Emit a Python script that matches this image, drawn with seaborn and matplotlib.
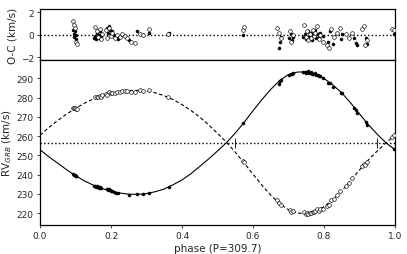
import numpy as np
import pandas as pd
import seaborn as sns
import matplotlib
matplotlib.use("Agg")
import matplotlib.pyplot as plt

# ---- model curves ----
curve_phase = [0.000, 0.025, 0.050, 0.075, 0.100, 0.125, 0.150, 0.175, 0.200, 0.225,
               0.250, 0.275, 0.300, 0.325, 0.350, 0.375, 0.400, 0.425, 0.450, 0.475,
               0.500, 0.525, 0.550, 0.575, 0.600, 0.625, 0.650, 0.675, 0.700, 0.725,
               0.750, 0.775, 0.800, 0.825, 0.850, 0.875, 0.900, 0.925, 0.950, 0.975, 1.000]
curve_prim = [253.0, 249.3, 246.0, 242.6, 239.5, 236.8, 234.6, 232.8, 231.5, 230.5,
              229.9, 229.8, 230.2, 231.2, 232.6, 234.8, 237.3, 240.5, 244.3, 248.2,
              252.3, 256.6, 261.6, 267.2, 273.2, 279.0, 284.3, 288.9, 292.0, 293.3,
              293.4, 292.3, 290.0, 286.6, 282.5, 277.3, 271.6, 266.0, 261.0, 256.5, 253.0]
curve_sec = [260.5, 264.5, 268.2, 271.5, 274.5, 277.1, 279.3, 281.0, 282.3, 283.2,
             283.7, 283.8, 283.4, 282.5, 281.0, 279.0, 276.4, 273.4, 269.9, 265.9,
             261.5, 256.9, 251.7, 246.1, 240.3, 234.6, 229.4, 225.0, 221.8, 220.1,
             219.8, 220.9, 223.4, 227.1, 231.6, 236.9, 242.5, 247.7, 252.3, 256.7, 260.5]
gamma = 256.7
conj_phase = [0.549, 0.948]

# ---- primary (filled) observations ----
phase_p = [0.094, 0.096, 0.097, 0.099, 0.100, 0.102,
           0.152, 0.156, 0.159, 0.161, 0.163, 0.165, 0.167, 0.170, 0.173,
           0.188, 0.191, 0.194, 0.197, 0.200, 0.204, 0.208, 0.214, 0.220,
           0.252, 0.272, 0.291, 0.306, 0.362, 0.573,
           0.672, 0.676, 0.680, 0.702, 0.706, 0.710, 0.714,
           0.742, 0.746, 0.750, 0.754, 0.758, 0.762, 0.766, 0.770, 0.774, 0.778,
           0.782, 0.786, 0.790, 0.796,
           0.812, 0.818, 0.826, 0.848, 0.852, 0.885, 0.889, 0.893, 0.918, 0.922, 0.998]
rv_p = [240.6, 240.0, 239.6, 239.9, 239.1, 239.3,
        234.2, 234.0, 233.5, 234.0, 233.5, 233.5, 233.1, 233.5, 232.9,
        232.7, 232.2, 232.6, 232.1, 231.6, 231.6, 231.2, 230.7, 230.3,
        229.4, 230.1, 230.0, 230.6, 233.8, 266.8,
        287.2, 288.4, 289.3, 291.8, 292.5, 292.1, 292.6,
        293.2, 293.5, 293.0, 293.6, 293.0, 293.1, 292.2, 292.5, 292.7, 291.8,
        291.8, 291.1, 291.1, 290.3,
        287.8, 287.8, 285.7, 282.4, 282.2, 274.7, 273.4, 272.3, 267.3, 265.9, 253.4]
oc_p = [0.4, 0.1, -0.2, 0.3, -0.4, 0.0,
        -0.3, -0.1, -0.4, 0.2, -0.2, 0.0, -0.3, 0.3, -0.1,
        0.6, 0.2, 0.8, 0.4, 0.1, 0.3, 0.0, -0.2, -0.4,
        -0.5, 0.3, -0.05, 0.15, 0.15, 0.0,
        -1.2, -0.6, -0.2, -0.3, 0.1, -0.5, -0.2,
        -0.2, 0.1, -0.4, 0.3, -0.1, 0.2, -0.5, 0.0, 0.4, -0.3,
        0.1, -0.2, 0.2, -0.1,
        -0.6, 0.3, -0.8, -0.4, 0.1, -0.3, -0.7, -0.9, -0.3, -0.8, 0.1]

# ---- secondary (open) observations ----
phase_s = [0.093, 0.095, 0.098, 0.101, 0.104,
           0.155, 0.160, 0.164, 0.168, 0.172, 0.176,
           0.186, 0.190, 0.195, 0.199, 0.203, 0.210, 0.216,
           0.225, 0.232, 0.240, 0.246, 0.255, 0.268, 0.282, 0.290, 0.306, 0.361,
           0.573, 0.576,
           0.668, 0.673, 0.678, 0.704, 0.708, 0.712,
           0.744, 0.748, 0.752, 0.756, 0.760, 0.764, 0.768, 0.772, 0.776, 0.780,
           0.785, 0.790, 0.796, 0.808, 0.815, 0.820, 0.828, 0.838, 0.846,
           0.862, 0.870, 0.880, 0.908, 0.912, 0.916, 0.922, 0.992, 0.996]
rv_s = [274.9, 274.8, 274.9, 274.0, 274.1,
        280.3, 280.3, 280.1, 281.0, 280.4, 281.2,
        282.0, 281.5, 282.7, 282.2, 282.6, 282.4, 282.9,
        283.0, 283.4, 283.4, 283.3, 283.1, 283.1, 283.8, 283.6, 283.8, 280.2,
        247.0, 246.6,
        226.8, 225.5, 224.3, 221.8, 220.7, 221.0,
        220.7, 219.6, 220.1, 219.4, 220.1, 219.9, 220.9, 220.6, 221.1, 222.1,
        221.4, 222.3, 222.4, 223.7, 224.4, 227.0, 227.4, 229.5, 231.5,
        234.3, 235.5, 238.1, 244.7, 245.8, 244.9, 246.6, 259.7, 260.4]
oc_s = [1.2, 0.9, 0.6, -0.6, -0.8,
        0.7, 0.3, -0.2, 0.5, -0.4, 0.1,
        0.4, -0.3, 0.6, -0.1, 0.2, -0.3, 0.0,
        -0.2, 0.1, -0.1, -0.3, -0.65, -0.7, 0.1, 0.0, 0.5, 0.1,
        0.45, 0.7,
        0.6, 0.2, -0.3, 0.3, -0.6, 0.0,
        0.9, -0.2, 0.3, -0.5, 0.1, -0.3, 0.4, -0.1, 0.2, 0.76,
        -0.4, 0.0, -0.6, -0.9, -1.2, 0.55, -0.2, 0.2, 0.6,
        0.1, -0.3, 0.2, 0.5, 0.75, -0.9, -0.5, 0.5, 0.4]

sns.set_style("ticks")
plt.rcParams["font.family"] = ["DejaVu Sans"]
plt.rcParams["font.size"] = 6.5

fig = plt.figure(figsize=(4.07, 2.55), dpi=100)
gs = fig.add_gridspec(2, 1, height_ratios=[0.31, 1], hspace=0,
                      left=0.0983, right=0.9705, top=0.9608, bottom=0.1137)
ax_oc = fig.add_subplot(gs[0])
ax = fig.add_subplot(gs[1], sharex=ax_oc)

curves = pd.DataFrame({"phase": curve_phase, "prim": curve_prim, "sec": curve_sec})
prim = pd.DataFrame({"phase": phase_p, "rv": rv_p, "oc": oc_p})
sec = pd.DataFrame({"phase": phase_s, "rv": rv_s, "oc": oc_s})

FILL_S, OPEN_S = 5, 7

# bottom: RV curves
ax.axhline(gamma, color="black", ls=":", lw=1.0, zorder=1)
sns.lineplot(data=curves, x="phase", y="prim", ax=ax, color="black", lw=0.8, zorder=2)
sns.lineplot(data=curves, x="phase", y="sec", ax=ax, color="black", lw=0.8, ls="--",
             zorder=2)
ax.lines[-1].set_dashes((3.2, 2.2))
sns.scatterplot(data=prim, x="phase", y="rv", ax=ax, color="black", s=FILL_S,
                edgecolor="black", linewidth=0.3, zorder=3)
sns.scatterplot(data=sec, x="phase", y="rv", ax=ax, facecolor="white", s=OPEN_S,
                edgecolor="black", linewidth=0.45, zorder=3)
ax.plot(conj_phase, [gamma] * len(conj_phase), ls="none", marker="|",
        markersize=7, color="black", mew=0.6, zorder=4)

ax.set_xlim(0, 1)
ax.set_ylim(213.9, 299.5)
ax.set_yticks([220, 230, 240, 250, 260, 270, 280, 290])
ax.set_xticks([0.0, 0.2, 0.4, 0.6, 0.8, 1.0])
ax.set_xlabel("phase (P=309.7)", fontsize=7.5, labelpad=2)
ax.set_ylabel(r"RV$_{GRB}$ (km/s)", fontsize=7.5, labelpad=2)

# top: residuals
ax_oc.axhline(0, color="black", ls=":", lw=1.0, zorder=1)
sns.scatterplot(data=prim, x="phase", y="oc", ax=ax_oc, color="black", s=FILL_S,
                edgecolor="black", linewidth=0.3, zorder=3)
sns.scatterplot(data=sec, x="phase", y="oc", ax=ax_oc, facecolor="white", s=OPEN_S,
                edgecolor="black", linewidth=0.45, zorder=3)
ax_oc.set_ylim(-2.25, 2.3)
ax_oc.set_yticks([-2, 0, 2])
ax_oc.set_ylabel("O-C (km/s)", fontsize=7.5, labelpad=2)
ax_oc.set_xlabel("")
ax_oc.tick_params(axis="x", bottom=False, labelbottom=False)

for a in (ax, ax_oc):
    for s in a.spines.values():
        s.set_visible(True)
        s.set_linewidth(0.9)
        s.set_color("black")
    a.tick_params(labelsize=6.5, length=2.5, width=0.6, pad=2)

fig.savefig("out.png", dpi=100)
